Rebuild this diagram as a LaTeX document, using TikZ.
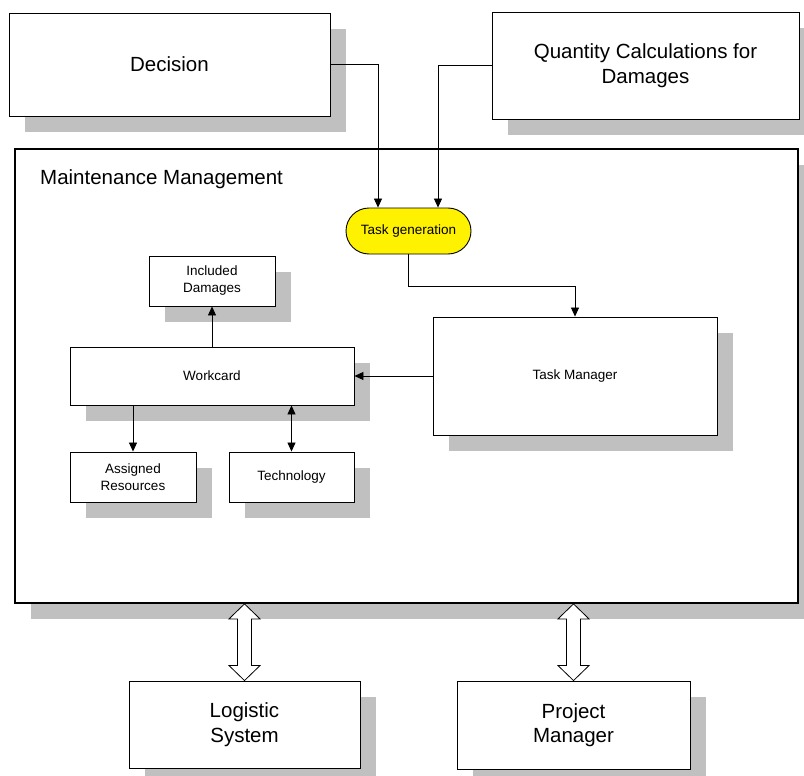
\documentclass[tikz,border=0pt]{standalone}
\usepackage{fontspec}
\setmainfont{Liberation Sans}
\usetikzlibrary{arrows.meta,shadows,calc}
\definecolor{shadowgray}{RGB}{192,192,192}
\begin{document}
\begin{tikzpicture}[x=1pt,y=-1pt,
  shbox/.style={draw, line width=0.9pt, fill=white, inner sep=0pt, align=center,
    drop shadow={shadow xshift=16pt, shadow yshift=-16pt, fill=shadowgray, opacity=1}},
  big/.style={font=\fontsize{20.5}{24.5}\selectfont},
  small/.style={font=\fontsize{13.5}{17}\selectfont},
  pill/.style={draw, line width=0.9pt, fill=yellow, rounded corners=23pt, inner sep=0pt,
    minimum width=125pt, minimum height=46pt, font=\fontsize{13.5}{17}\selectfont},
  arr/.style={line width=0.8pt, -{Triangle[length=9pt,width=8pt]}},
  darr/.style={line width=0.8pt, {Triangle[length=9pt,width=8pt]}-{Triangle[length=9pt,width=8pt]}},
  hollow/.style={draw, line width=0.8pt, fill=white, line join=miter}]
\useasboundingbox (0,0) rectangle (804,776);
% outer boxes
\node[shbox, big, minimum width=321pt, minimum height=103pt] (dec) at (169.5,64.5) {Decision};
\node[shbox, big, minimum width=307pt, minimum height=107pt] (qc) at (645.5,65.5) {Quantity Calculations for\\Damages};
\node[shbox, line width=1.8pt, minimum width=783pt, minimum height=454pt] (main) at (406.5,376) {};
\node[big, anchor=base west, inner sep=0pt] (mlabel) at (40,184) {Maintenance Management};
% inner boxes
\node[pill] (tg) at (408.5,231) {Task generation};
\node[shbox, small, minimum width=284pt, minimum height=118pt] (tm) at (575,376) {Task Manager};
\node[shbox, small, minimum width=284pt, minimum height=58pt] (wc) at (212,376) {Workcard};
\node[shbox, small, minimum width=126pt, minimum height=50pt] (inc) at (212,281) {Included\\Damages};
\node[shbox, small, minimum width=126pt, minimum height=50pt] (ar) at (133,477) {Assigned\\Resources};
\node[shbox, small, minimum width=125pt, minimum height=50pt] (te) at (291.5,477) {Technology};
% bottom boxes
\node[shbox, big, minimum width=231pt, minimum height=87pt] (ls) at (244.5,724.5) {Logistic\\System};
\node[shbox, big, minimum width=233pt, minimum height=88pt] (pm) at (573.5,725) {Project\\Manager};
% connectors
\draw[arr] (dec.east) -| ($(tg.north)+(-30.5,0)$);
\draw[arr] (qc.west) -| ($(tg.north)+(29.5,0)$);
\draw[arr] (tg.south) -- ++(0,32) -| (tm.north);
\draw[arr] (tm.west) -- (wc.east);
\draw[arr] (wc.north) -- (inc.south);
\draw[arr] (wc.south -| ar.north) -- (ar.north);
\draw[darr] (wc.south -| te.north) -- (te.north);
% hollow double arrows
\coordinate (a1) at (main.south -| ls.north);
\coordinate (b1) at (main.south -| pm.north);
\draw[hollow] (a1) -- ++(15.5,15) -- ++(-8.5,0) -- ($(ls.north)+(7,-15)$) -- ++(8.5,0) -- (ls.north)
  -- ++(-15.5,-15) -- ++(8.5,0) -- ($(a1)+(-7,15)$) -- ++(-8.5,0) -- cycle;
\draw[hollow] (b1) -- ++(15.5,15) -- ++(-8.5,0) -- ($(pm.north)+(7,-15)$) -- ++(8.5,0) -- (pm.north)
  -- ++(-15.5,-15) -- ++(8.5,0) -- ($(b1)+(-7,15)$) -- ++(-8.5,0) -- cycle;
\end{tikzpicture}
\end{document}
